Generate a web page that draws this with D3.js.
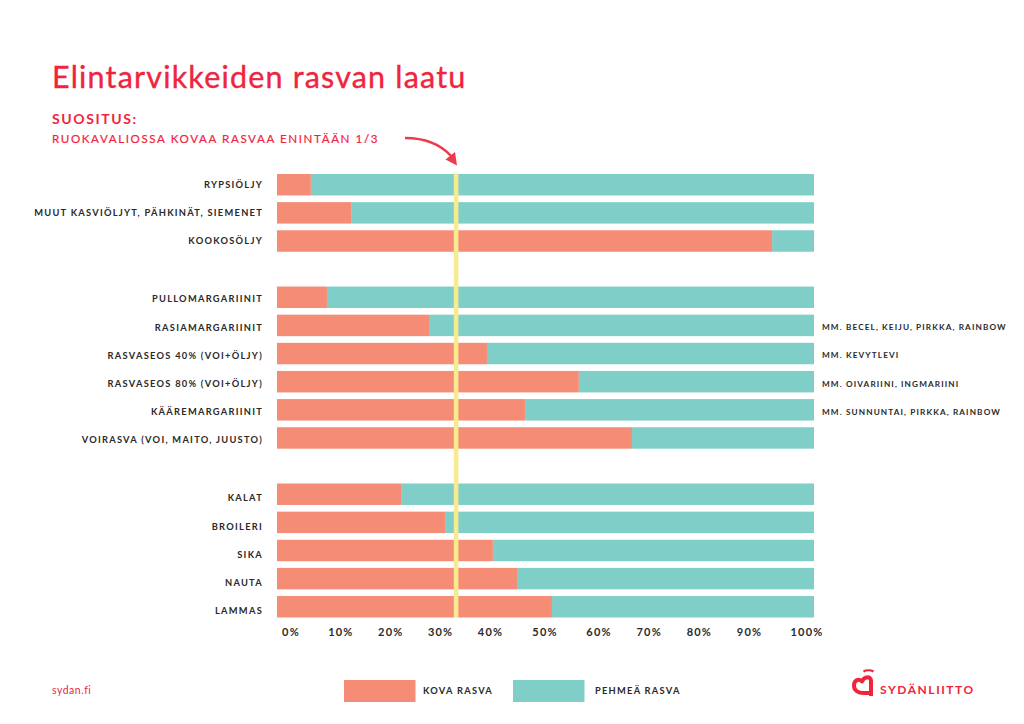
<!DOCTYPE html>
<html><head><meta charset="utf-8">
<script src="https://cdn.jsdelivr.net/npm/d3@7"></script>
<style>
html,body{margin:0;padding:0;background:#fff}
svg{display:block}
text{font-family:Lato,"Noto Sans",sans-serif}
.lab{font-size:9.3px;font-weight:700;letter-spacing:1.26px;fill:#2a2a2a}
.note{font-size:8.2px;font-weight:700;letter-spacing:1.13px;fill:#2a2a2a}
.tick{font-size:11px;font-weight:700;letter-spacing:1.2px;fill:#2a2a2a}
</style></head><body>
<script>
const categories=["RYPSIÖLJY","MUUT KASVIÖLJYT, PÄHKINÄT, SIEMENET","KOOKOSÖLJY","gap1","PULLOMARGARIINIT","RASIAMARGARIINIT","RASVASEOS 40% (VOI+ÖLJY)","RASVASEOS 80% (VOI+ÖLJY)","KÄÄREMARGARIINIT","VOIRASVA (VOI, MAITO, JUUSTO)","gap2","KALAT","BROILERI","SIKA","NAUTA","LAMMAS"];
const hardFat=[6.3,13.8,92.2,null,9.3,28.3,39.1,56.2,46.2,66.1,null,23.1,31.3,40.2,44.7,51.2];
const noteRows=["RASIAMARGARIINIT","RASVASEOS 40% (VOI+ÖLJY)","RASVASEOS 80% (VOI+ÖLJY)","KÄÄREMARGARIINIT"];
const noteTexts=["MM. BECEL, KEIJU, PIRKKA, RAINBOW","MM. KEVYTLEVI","MM. OIVARIINI, INGMARIINI","MM. SUNNUNTAI, PIRKKA, RAINBOW"];
const tickValues=[0,10,20,30,40,50,60,70,80,90,100];
const recommendation=100/3;
const legendLabels=["KOVA RASVA","PEHMEÄ RASVA"];

const RED="#f0243c",SALMON="#f58c76",TEAL="#7fcfc8",YELLOW="#f7eb92";
const svg=d3.select("body").append("svg").attr("width",1024).attr("height",724);
const x=d3.scaleLinear().domain([0,100]).range([277,814]);
const y=d3.scaleBand().domain(categories).range([174,617.5]).paddingInner(0.237);
const tickX=d3.scaleLinear().domain([0,40,50,60,90,100]).range([291,490.5,545,599,749.5,807]);
const rows=categories.map((c,i)=>({c,v:hardFat[i],i})).filter(d=>d.v!==null);
// the row labels sit progressively lower than their bars, group by group
const labelShift=d3.scaleThreshold().domain([3,10]).range([0,2,4]);

svg.append("text").attr("x",52).attr("y",88).attr("fill",RED).attr("stroke",RED).attr("stroke-width",0.35)
  .style("font-size","30.5px").style("font-weight",400).style("letter-spacing","1.18px").text("Elintarvikkeiden rasvan laatu");
svg.append("text").attr("x",52).attr("y",124).attr("fill",RED)
  .style("font-size","14px").style("font-weight",700).style("letter-spacing","1.6px").text("SUOSITUS:");
svg.append("text").attr("x",52).attr("y",143).attr("fill",RED).attr("stroke",RED).attr("stroke-width",0.2)
  .style("font-size","11.6px").style("font-weight",400).style("letter-spacing","1.6px").text("RUOKAVALIOSSA KOVAA RASVAA ENINTÄÄN 1/3");

svg.append("path").attr("d","M405,138 C428,138 442,146 451,156").attr("fill","none").attr("stroke","#ef3a4e").attr("stroke-width",2.4);
svg.append("path").attr("d","M457,165.5 L455,152 L445.5,159.5 Z").attr("fill","#ef3a4e");

const g=svg.append("g");
g.selectAll("rect.soft").data(rows).join("rect").attr("class","soft")
  .attr("x",d=>x(d.v)).attr("y",d=>y(d.c)).attr("width",d=>x(100)-x(d.v)).attr("height",y.bandwidth()).attr("fill",TEAL);
g.selectAll("rect.hard").data(rows).join("rect").attr("class","hard")
  .attr("x",x(0)).attr("y",d=>y(d.c)).attr("width",d=>x(d.v)-x(0)).attr("height",y.bandwidth()).attr("fill",SALMON);
g.selectAll("text.lab").data(rows).join("text").attr("class","lab")
  .attr("x",263).attr("y",d=>y(d.c)+y.bandwidth()/2+3.2+labelShift(d.i)).attr("text-anchor","end").text(d=>d.c);
g.selectAll("text.note").data(noteRows).join("text").attr("class","note")
  .attr("x",822).attr("y",d=>y(d)+y.bandwidth()/2+2.9+labelShift(categories.indexOf(d))).text((d,i)=>noteTexts[i]);

svg.append("rect").attr("x",x(recommendation)-2.2).attr("width",4.6).attr("y",174).attr("height",444).attr("fill",YELLOW);

svg.selectAll("text.tick").data(tickValues).join("text").attr("class","tick")
  .attr("x",d=>tickX(d)).attr("y",636).attr("text-anchor","middle").text(d=>d+"%");

const legX=d3.scalePoint().domain(legendLabels).range([344,513]);
const legG=svg.selectAll("g.leg").data(legendLabels).join("g").attr("class","leg");
legG.append("rect").attr("x",d=>legX(d)).attr("y",680).attr("width",71.5).attr("height",22).attr("fill",(d,i)=>i?TEAL:SALMON);
legG.append("text").attr("class","lab").attr("x",(d,i)=>legX(d)+(i?82:79)).attr("y",694).text(d=>d);

svg.append("text").attr("x",52).attr("y",694).attr("fill",RED).style("font-size","10.5px").style("font-weight",400).style("letter-spacing","0.5px").text("sydan.fi");

// logo
svg.append("path").attr("d","M863.5,671.5 C866,669.8 871,669.8 873.5,671.5").attr("fill","none").attr("stroke",RED).attr("stroke-width",2.2);
svg.append("path").attr("fill","none").attr("stroke",RED).attr("stroke-width",4).attr("stroke-linejoin","round")
  .attr("d","M871,696 L871,681 C871,676 864.5,676 862,681.5 C859,678 854,680 854,685.5 C854,690.5 858,693 864,693 L871,693");
svg.append("text").attr("x",880).attr("y",694).attr("fill",RED).style("font-size","12px").style("font-weight",700).style("letter-spacing","1.55px").text("SYDÄNLIITTO");
</script>
</body></html>
